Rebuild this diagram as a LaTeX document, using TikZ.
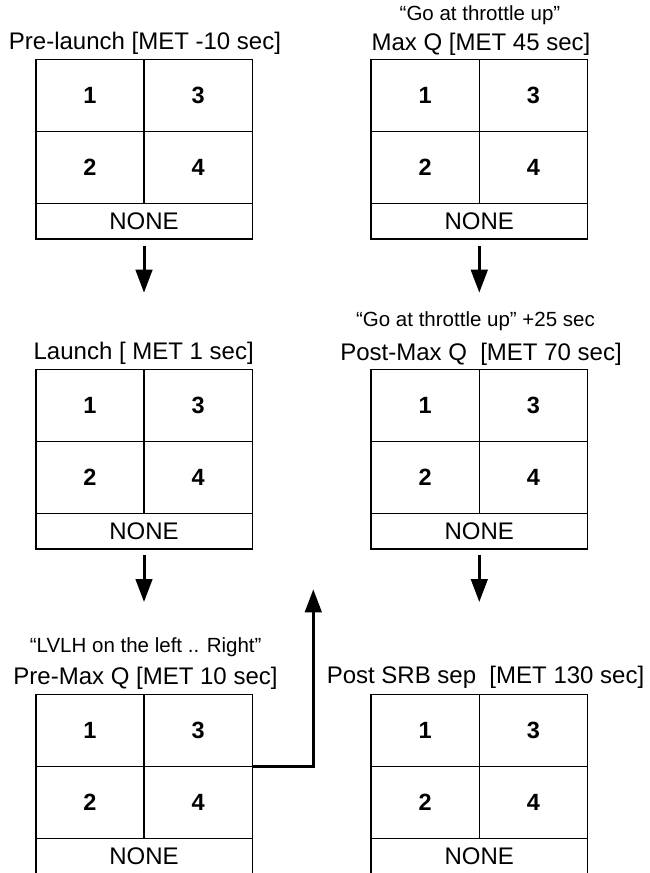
\documentclass[tikz,border=0pt]{standalone}
\usepackage{fontspec}
\setmainfont{Liberation Sans}
\usetikzlibrary{arrows.meta,calc}
\newcommand\panel[3]{%
\begin{scope}[shift={(#2,#3)}]
 \node[frame] (#1) at (0,0) {};
 \node[cell] (#1-1) at (0,0) {1};
 \node[cell] (#1-3) at (108.3,0) {3};
 \node[cell] (#1-2) at (0,72) {2};
 \node[cell] (#1-4) at (108.3,72) {4};
 \node[nonecell] (#1-n) at (0,144) {NONE};
 \draw[grid] (#1-1.south west) -- (#1-3.south east);
 \draw[grid] (#1-2.south west) -- (#1-4.south east);
 \draw[grid] (#1-1.north east) -- (#1-2.south east);
\end{scope}}
\begin{document}
\begin{tikzpicture}[x=1pt,y=-1pt,
 frame/.style={draw, line width=1.6pt, minimum width=216.6pt, minimum height=179.7pt, inner sep=0pt, outer sep=0pt, anchor=north west},
 cell/.style={minimum width=108.3pt, minimum height=72pt, inner sep=0pt, outer sep=0pt, anchor=north west, font=\fontsize{23.5}{26}\selectfont\bfseries},
 nonecell/.style={minimum width=216.6pt, minimum height=35.7pt, inner sep=0pt, outer sep=0pt, anchor=north west, font=\fontsize{24}{28}\selectfont},
 grid/.style={line width=1.6pt},
 title/.style={anchor=base, inner sep=0pt, font=\fontsize{24}{28}\selectfont},
 quote/.style={anchor=base, inner sep=0pt, font=\fontsize{20.5}{24}\selectfont},
 flow/.style={line width=3pt, -{Triangle[width=16.5pt,length=23pt]}},
]
\clip (0,0) rectangle (649,873);
\fill[white] (0,0) rectangle (649,873);

\node[quote] (q2) at (480,20.7) {“Go at throttle up”};
\node[title] (t1) at (145,49.5) {Pre-launch [MET -10 sec]};
\node[title] (t2) at (481,50) {Max Q [MET 45 sec]};
\node[title] (t3) at (143.7,359.5) {Launch [ MET 1 sec]};
\node[quote] (q4) at (475.5,326) {“Go at throttle up” +25 sec};
\node[title] (t4) at (481,360) {Post-Max Q\ \ [MET 70 sec]};
\node[quote] (q5) at (145.7,652.7) {“LVLH on the left .. Right”};
\node[title] (t5) at (145.5,684.5) {Pre-Max Q [MET 10 sec]};
\node[title] (t6) at (485.5,683.5) {Post SRB sep\ \ [MET 130 sec]};

\panel{b1}{35.7}{59.3}
\panel{b2}{371}{59.3}
\panel{b3}{35.7}{369.3}
\panel{b4}{371}{369.3}
\panel{b5}{35.7}{694.5}
\panel{b6}{371}{694.5}

\draw[flow, shorten <=7pt, shorten >=76.6pt] (b1.south) -- (b3.north);
\draw[flow, shorten <=7pt, shorten >=76.6pt] (b2.south) -- (b4.north);
\draw[flow, shorten <=6pt, shorten >=92.5pt] (b3.south) -- (b5.north);
\draw[flow, shorten <=6pt, shorten >=92.5pt] (b4.south) -- (b6.north);
\coordinate (up) at (313.3,589.3);
\draw[flow] (b5-3.south east) -| (up);
\end{tikzpicture}
\end{document}
